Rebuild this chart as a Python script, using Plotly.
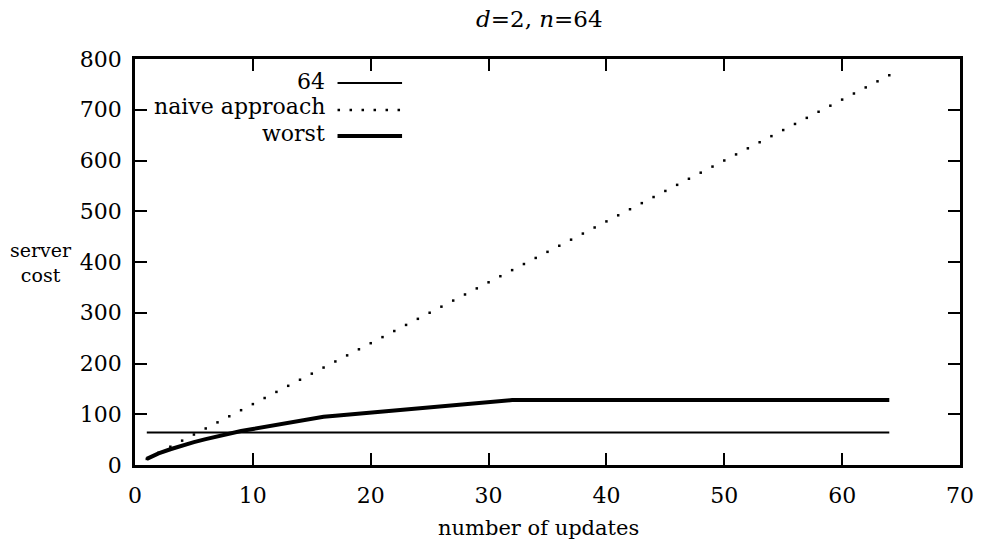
import plotly.graph_objects as go

# ---- data ----
updates = list(range(1, 65))
line64 = [64] * 64
naive = [12 * x for x in updates]
worst = [12, 23, 31, 39, 45, 51, 57, 62, 67, 71, 75, 80, 84, 88, 92, 95,
         97, 99, 101, 104, 106, 108, 110, 112, 114, 116, 118, 120, 122, 124, 126, 128] + [128] * 32
x_ticks = [0, 10, 20, 30, 40, 50, 60, 70]
y_ticks = [0, 100, 200, 300, 400, 500, 600, 700, 800]
legend_names = ["64", "naive approach", "worst"]

W, H = 986, 548
L, R, T, B = 135, 20, 59, 83
PW, PH = W - L - R, H - T - B
FONT = "DejaVu Serif"

def px(xp):
    return (xp - L) / PW

def py(yp):
    return (H - B - yp) / PH

fig = go.Figure()
fig.add_trace(go.Scatter(x=updates, y=line64, mode="lines",
                         line=dict(color="black", width=2), name=legend_names[0]))
fig.add_trace(go.Scatter(x=updates, y=naive, mode="markers",
                         marker=dict(color="black", size=2.5, symbol="square", line=dict(width=0)),
                         name=legend_names[1]))
fig.add_trace(go.Scatter(x=updates, y=worst, mode="lines",
                         line=dict(color="black", width=4), name=legend_names[2]))

axis_common = dict(showgrid=False, zeroline=False, showline=True, linecolor="black",
                   linewidth=2.5, mirror="ticks", ticks="inside", ticklen=12, tickwidth=2,
                   tickcolor="black", tickfont=dict(family=FONT, size=22, color="black"))
fig.update_xaxes(range=[0, 70], tickvals=x_ticks, ticklabelstandoff=9, **axis_common)
fig.update_yaxes(range=[0, 800], tickvals=y_ticks, ticklabelstandoff=6, **axis_common)

annotations = [
    dict(text="<i>d</i>=2, <i>n</i>=64", x=(542 - L) / PW, y=py(19), xref="paper", yref="paper",
         showarrow=False, xanchor="center", yanchor="middle", font=dict(family=FONT, size=23)),
    dict(text="number of updates", x=(541 - L) / PW, y=py(528), xref="paper", yref="paper",
         showarrow=False, xanchor="center", yanchor="middle", font=dict(family=FONT, size=21)),
    dict(text="server<br>cost", x=px(40), y=py(262), xref="paper", yref="paper",
         showarrow=False, xanchor="center", yanchor="middle", align="center",
         font=dict(family=FONT, size=19)),
]
shapes = []
leg_y = [81, 107, 133]
for i, name in enumerate(legend_names):
    annotations.append(dict(text=name, x=px(328), y=py(leg_y[i]), xref="paper", yref="paper",
                            showarrow=False, xanchor="right", yanchor="middle",
                            font=dict(family=FONT, size=22)))
shapes.append(dict(type="line", xref="paper", yref="paper", x0=px(339), x1=px(404),
                   y0=py(83), y1=py(83), line=dict(color="black", width=2)))
shapes.append(dict(type="line", xref="paper", yref="paper", x0=px(339), x1=px(405),
                   y0=py(110), y1=py(110),
                   line=dict(color="black", width=2.5, dash="2.5px,9.5px")))
shapes.append(dict(type="line", xref="paper", yref="paper", x0=px(339), x1=px(404),
                   y0=py(136), y1=py(136), line=dict(color="black", width=4)))

fig.update_layout(width=W, height=H, autosize=False,
                  margin=dict(l=L, r=R, t=T, b=B, pad=0),
                  paper_bgcolor="white", plot_bgcolor="white", showlegend=False,
                  annotations=annotations, shapes=shapes,
                  font=dict(family=FONT, color="black"))
fig.write_html("out.html")
